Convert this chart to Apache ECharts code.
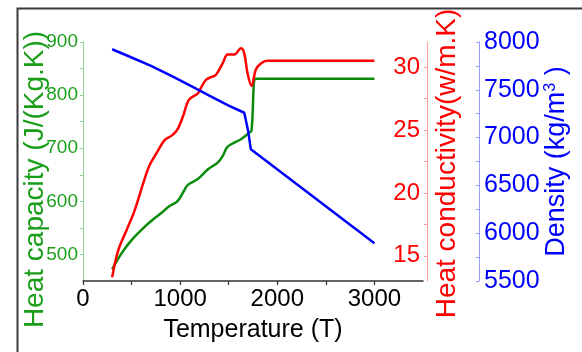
<!DOCTYPE html>
<html>
<head>
<meta charset="utf-8">
<script src="https://cdn.jsdelivr.net/npm/echarts@6/dist/echarts.min.js"></script>
<style>
html,body{margin:0;padding:0;background:#fff;}
#chart{width:582px;height:352px;}
</style>
</head>
<body>
<div id="chart"></div>
<script>
// Heat capacity (J/(Kg.K)) vs temperature
var capT   = [300, 400, 500, 634, 736, 800, 874, 976, 1040, 1079, 1181, 1284, 1387, 1440, 1489, 1626, 1711, 1735, 1770, 1800, 3000];
var capVal = [472, 503, 527, 552, 568, 577, 589, 601, 620, 631, 642, 660, 673, 686, 703, 717, 729, 733, 831, 831, 831];
// Heat conductivity (w/m.K)
var condT   = [300, 361, 446, 531, 617, 685, 760, 840, 920, 976, 1030, 1090, 1181, 1210, 1267, 1318, 1369, 1438, 1489, 1557, 1626, 1660, 1694, 1735, 1779, 1831, 1900, 2000, 3000];
var condVal = [13.3, 15.4, 17.0, 18.6, 20.7, 22.2, 23.2, 24.2, 24.6, 25.1, 26.1, 27.4, 27.9, 28.3, 29.0, 29.2, 29.4, 30.3, 31.0, 31.0, 31.5, 31.1, 29.5, 28.5, 29.8, 30.3, 30.5, 30.5, 30.5];
// Density (kg/m3)
var densT   = [300, 500, 700, 900, 1100, 1300, 1500, 1660, 1700, 1728, 3000];
var densVal = [7924, 7838, 7750, 7650, 7547, 7440, 7335, 7260, 7069, 6877, 5895];
// Tick positions and labels
var xTicks   = [0, 500, 1000, 1500, 2000, 2500, 3000];
var xLabels  = [0, 1000, 2000, 3000];
var capTicks = [500, 550, 600, 650, 700, 750, 800, 850, 900];
var capLabels = [500, 600, 700, 800, 900];
var condTicks = [15, 17.5, 20, 22.5, 25, 27.5, 30];
var condLabels = [15, 20, 25, 30];
var densTicks = [5500, 5750, 6000, 6250, 6500, 6750, 7000, 7250, 7500, 7750, 8000];
var densLabels = [5500, 6000, 6500, 7000, 7500, 8000];

function pairs(xs, ys){ return xs.map(function(x,i){ return [x, ys[i]]; }); }
function plain(v){ return String(v); }

var FONT = 'Liberation Sans, Arial, sans-serif';
var GREEN = '#1a9e1a', GREENLINE = '#0a8a0a', RED = '#ff0000', BLUE = '#0000ff';

var chart = echarts.init(document.getElementById('chart'), null, {renderer:'canvas'});
chart.setOption({
  animation: false,
  backgroundColor: '#ffffff',
  textStyle: {fontFamily: FONT},
  graphic: [{
    type: 'rect', left: 15, top: 6, silent: true,
    shape: {x: 0, y: 0, width: 620, height: 400},
    style: {fill: 'none', stroke: '#3a3a3a', lineWidth: 2}
  }],
  grid: {left: 83, right: 159, top: 42, bottom: 71},
  xAxis: {
    type: 'value', min: 0, max: 3500,
    splitLine: {show: false},
    axisLine: {show: true, lineStyle: {color: '#333', width: 1.5}},
    axisTick: {show: true, customValues: xTicks, length: 4, lineStyle: {color: '#333', width: 1.2}},
    axisLabel: {customValues: xLabels, formatter: plain, fontSize: 24, color: '#000', margin: 6, fontFamily: FONT},
    name: 'Temperature (T)', nameLocation: 'middle', nameGap: 37, nameMoveOverlap: false,
    nameTextStyle: {fontSize: 25, color: '#000', fontFamily: FONT}
  },
  yAxis: [{
    type: 'value', position: 'left', min: 450, max: 900,
    splitLine: {show: false},
    axisLine: {show: true, lineStyle: {color: '#8fd18f', width: 1}},
    axisTick: {show: true, customValues: capTicks, length: 3, lineStyle: {color: '#8fd18f'}},
    axisLabel: {customValues: capLabels, formatter: plain, fontSize: 19, color: GREEN, margin: 5, fontFamily: FONT},
    name: 'Heat capacity (J/(Kg.K))', nameLocation: 'middle', nameGap: 34, nameRotate: 90, nameMoveOverlap: false,
    nameTextStyle: {fontSize: 28, color: GREEN, fontFamily: FONT, padding: [0, 36, 0, 0]}
  }, {
    type: 'value', position: 'right', offset: 4, min: 13, max: 32,
    splitLine: {show: false},
    axisLine: {show: true, lineStyle: {color: '#ff9a9a', width: 1}},
    axisTick: {show: true, inside: true, customValues: condTicks, length: 3, lineStyle: {color: '#ff9a9a'}},
    axisLabel: {inside: true, customValues: condLabels, formatter: plain, fontSize: 24, color: RED, margin: 7, fontFamily: FONT},
    name: 'Heat conductivity(w/m.K)', nameLocation: 'middle', nameGap: 6, nameRotate: 90, nameMoveOverlap: false,
    nameTextStyle: {fontSize: 28, color: RED, fontFamily: FONT, padding: [0, 4, 0, 0]}
  }, {
    type: 'value', position: 'right', offset: 56, min: 5500, max: 8000,
    splitLine: {show: false},
    axisLine: {show: true, lineStyle: {color: '#9a9aff', width: 1}},
    axisTick: {show: true, inside: true, customValues: densTicks, length: 3, lineStyle: {color: '#9a9aff'}},
    axisLabel: {customValues: densLabels, formatter: plain, fontSize: 25, color: BLUE, margin: 5, fontFamily: FONT},
    name: 'Density (kg/m{sup|3} )', nameLocation: 'middle', nameGap: 64, nameRotate: 90, nameMoveOverlap: false,
    nameTextStyle: {fontSize: 27, color: BLUE, fontFamily: FONT,
      rich: {sup: {fontSize: 16, color: BLUE, fontFamily: FONT, verticalAlign: 'top', lineHeight: 13}}}
  }],
  series: [{
    type: 'line', yAxisIndex: 0, data: pairs(capT, capVal), showSymbol: false, smooth: 0.35,
    lineStyle: {color: GREENLINE, width: 2.5}, itemStyle: {color: GREENLINE}
  }, {
    type: 'line', yAxisIndex: 1, data: pairs(condT, condVal), showSymbol: false, smooth: 0.35,
    lineStyle: {color: RED, width: 2.5}, itemStyle: {color: RED}
  }, {
    type: 'line', yAxisIndex: 2, data: pairs(densT, densVal), showSymbol: false, smooth: false,
    lineStyle: {color: BLUE, width: 2.5}, itemStyle: {color: BLUE}
  }]
});
</script>
</body>
</html>
